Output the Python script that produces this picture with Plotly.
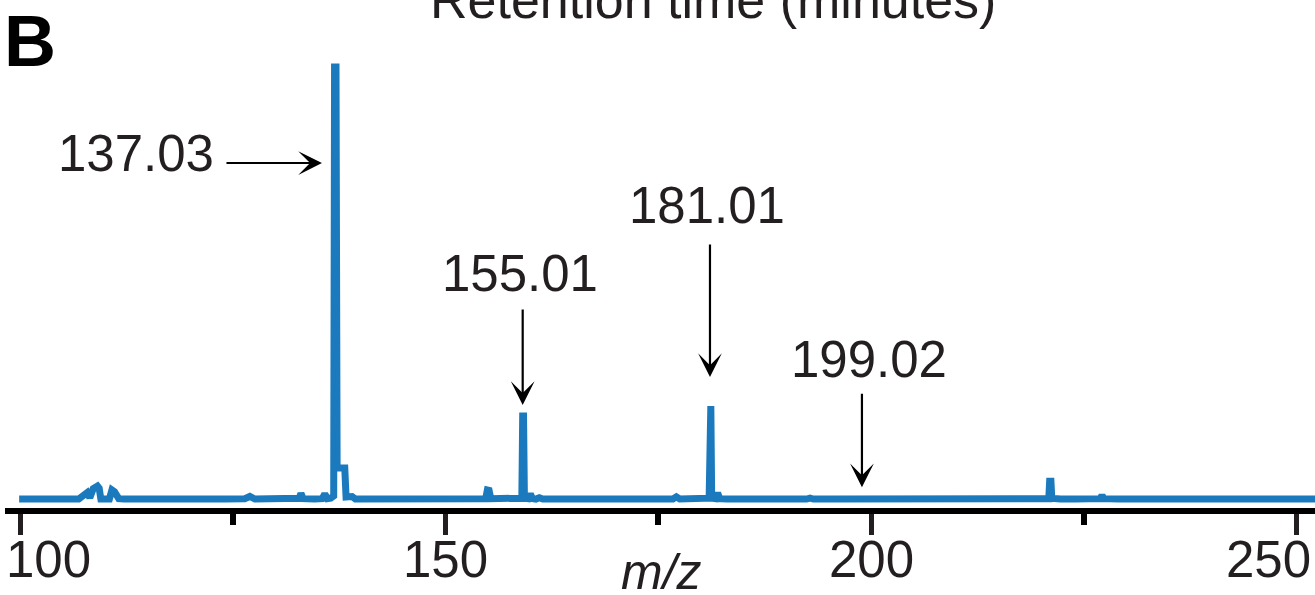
import plotly.graph_objects as go

# ---- data ----
mz = [99.9, 102.0, 104.0, 106.0, 106.9, 107.9, 108.2, 108.6, 109.1, 109.3, 109.5, 110.5, 110.8, 111.1,
      111.6, 112.2, 116.0, 120.0, 124.0, 126.4, 127.0, 127.6, 130.0, 131.4, 132.8, 133.0, 133.25,
      134.6, 135.5, 135.8, 136.1, 136.5, 136.85, 136.95, 137.12, 137.25, 138.15, 138.3, 138.7, 139.0,
      139.4, 141.0, 145.0, 149.0, 152.6, 153.1, 153.6, 154.7, 154.9, 155.1, 155.3, 157.5, 158.95,
      159.05, 159.15, 159.25, 159.7, 159.95, 160.2, 160.6, 161.0, 161.4, 164.0, 168.0, 172.0, 174.6,
      174.9, 175.2, 176.7, 177.1, 177.5, 180.95, 181.05, 181.15, 181.25, 181.7, 181.95, 182.2, 183.0,
      186.0, 190.0, 192.4, 192.8, 193.2, 196.0, 198.6, 198.9, 199.2, 203.0, 206.7, 207.1, 207.5,
      211.0, 216.0, 219.0, 220.85, 220.95, 221.1, 221.2, 221.6, 221.9, 222.2, 224.0, 226.9, 227.1,
      227.3, 229.0, 233.0, 235.6, 236.0, 236.4, 239.0, 242.6, 243.0, 243.4, 247.0, 250.0, 253.5]
intensity = [0.1, 0.1, 0.0, 0.1, 0.1, 1.6, 0.4, 2.5, 3.1, 2.6, 0.1, 0.1, 2.2, 1.8,
             0.2, 0.1, 0.0, 0.1, 0.1, 0.2, 0.7, 0.1, 0.1, 0.1, 0.3, 1.4, 0.2,
             0.1, 0.2, 1.3, 0.2, 0.3, 0.8, 100.0, 100.0, 7.3, 7.3, 0.6, 0.5, 0.7,
             0.1, 0.1, 0.0, 0.1, 0.1, 0.4, 0.1, 0.2, 2.2, 2.1, 0.2, 0.1, 0.3,
             19.3, 19.3, 0.3, 0.2, 1.3, 0.2, 0.1, 0.4, 0.1, 0.1, 0.0, 0.1, 0.1,
             0.4, 0.1, 0.1, 0.6, 0.1, 0.3, 21.6, 21.6, 0.3, 0.2, 1.5, 0.2, 0.1,
             0.0, 0.1, 0.1, 0.3, 0.1, 0.1, 0.1, 0.4, 0.1, 0.1, 0.1, 0.4, 0.1,
             0.1, 0.0, 0.1, 0.2, 4.2, 4.2, 0.3, 0.2, 0.5, 0.1, 0.1, 0.2, 1.0,
             0.2, 0.1, 0.1, 0.1, 0.4, 0.1, 0.1, 0.1, 0.4, 0.1, 0.1, 0.1, 0.1]

label_text = ["137.03", "155.01", "181.01", "199.02"]
label_mz = [137.0, 159.05, 181.05, 198.9]
label_y = [77.8, 19.3, 21.6, 0.3]

major_ticks = [100, 150, 200, 250]
minor_ticks = [125, 175, 225]
tick_labels = ["100", "150", "200", "250"]

title_text = "Retention time (minutes)"
panel_letter = "B"
x_title = "<i>m/z</i>"

BLUE = "#1a7abd"
INK = "#231f20"
FONT = "Liberation Sans, Arial, Helvetica, sans-serif"

fig = go.Figure()
fig.add_trace(go.Scatter(x=mz, y=intensity, mode="lines",
                         line=dict(color=BLUE, width=7), hoverinfo="skip"))

# arrow + text styling per label (pixel offsets)
arrow_style = [
    dict(ax=-110, ay=0, standoff=13, tx=-119, ty=9.5, xa="right"),
    dict(ax=0, ay=-108, standoff=11, tx=-2.7, ty=142.5, xa="center"),
    dict(ax=0, ay=-163, standoff=29, tx=-2.5, ty=200.5, xa="center"),
    dict(ax=0, ay=-106, standoff=11, tx=7.5, ty=138.5, xa="center"),
]
for t, xv, yv, st in zip(label_text, label_mz, label_y, arrow_style):
    fig.add_annotation(x=xv, y=yv, xref="x", yref="y", text="", showarrow=True,
                       ax=st["ax"], ay=st["ay"], axref="pixel", ayref="pixel",
                       arrowhead=3, arrowsize=1.8, arrowwidth=2.2, arrowcolor="black",
                       standoff=st["standoff"])
    fig.add_annotation(x=xv, y=yv, xref="x", yref="y", text=t, showarrow=False,
                       xanchor=st["xa"], yanchor="middle", xshift=st["tx"], yshift=st["ty"],
                       font=dict(family=FONT, size=51, color=INK))

# tick labels
anchors = ["left", "center", "center", "right"]
shifts = [-16, 0, 0, 16]
for v, lab, a, s in zip(major_ticks, tick_labels, anchors, shifts):
    fig.add_annotation(x=v, y=0, xref="x", yref="paper", text=lab, showarrow=False,
                       xanchor=a, yanchor="middle", xshift=s, yshift=-51,
                       font=dict(family=FONT, size=51, color=INK))

# axis title m/z
fig.add_annotation(x=(661 - 5) / 1310, y=0, xref="paper", yref="paper", text=x_title,
                   showarrow=False, xanchor="center", yanchor="middle", yshift=-64,
                   font=dict(family=FONT, size=50, color=INK))

# cut-off title
fig.add_annotation(x=(713 - 5) / 1310, y=1, xref="paper", yref="paper", text=title_text,
                   showarrow=False, xanchor="center", yanchor="middle", yshift=20,
                   font=dict(family=FONT, size=52, color=INK))

# panel letter
fig.add_annotation(x=(30 - 5) / 1310, y=1, xref="paper", yref="paper",
                   text="<b>" + panel_letter + "</b>", showarrow=False,
                   xanchor="center", yanchor="middle", yshift=-21,
                   font=dict(family=FONT, size=72, color="black"))

fig.update_layout(
    width=1315, height=595,
    margin=dict(l=5, r=0, t=20, b=87),
    plot_bgcolor="white", paper_bgcolor="white",
    showlegend=False,
    xaxis=dict(range=[98.238, 252.12], showline=True, linecolor="black", linewidth=6,
               ticks="outside", tickvals=major_ticks, ticklen=21, tickwidth=5,
               tickcolor=INK, showticklabels=False, showgrid=False, zeroline=False,
               minor=dict(tickvals=minor_ticks, ticks="outside", ticklen=11,
                          tickwidth=6, tickcolor="black", showgrid=False)),
    yaxis=dict(range=[-1.965, 110.87], visible=False),
)

fig.write_html("out.html")
